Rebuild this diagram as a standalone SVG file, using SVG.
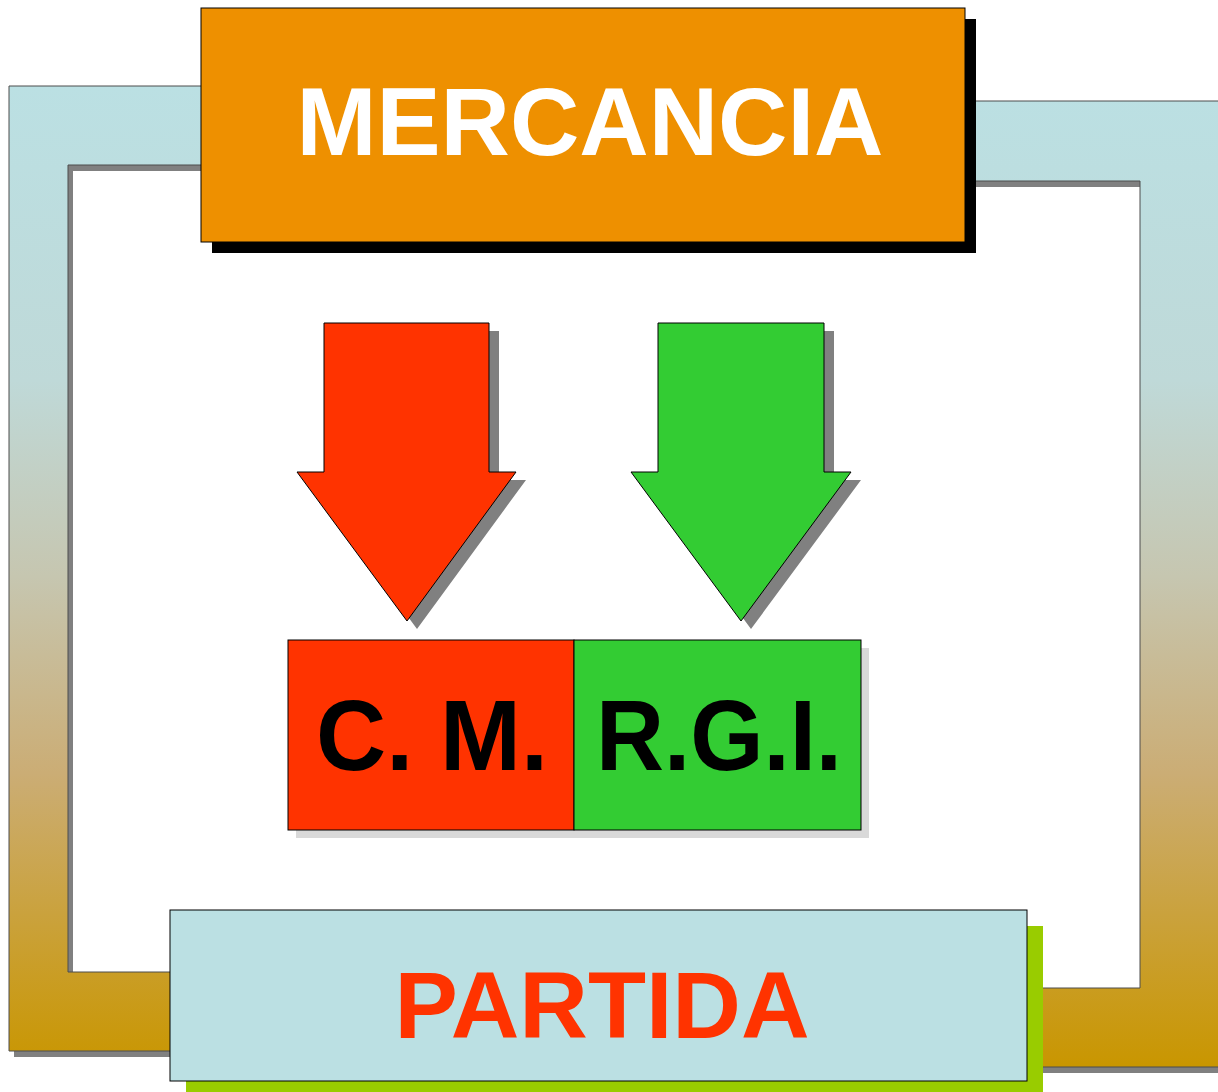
<svg xmlns="http://www.w3.org/2000/svg" width="1218" height="1092" viewBox="0 0 1218 1092">
  <defs>
    <linearGradient id="frameGrad" gradientUnits="userSpaceOnUse" x1="0" y1="86" x2="0" y2="1067">
      <stop offset="0" stop-color="#BBE0E3"/>
      <stop offset="0.3" stop-color="#BFD9D8"/>
      <stop offset="0.5" stop-color="#C6C6B0"/>
      <stop offset="0.7" stop-color="#CBAD75"/>
      <stop offset="1" stop-color="#C99600"/>
    </linearGradient>
  </defs>
  <style>
    .frameShadow { fill: #808080; }
    .frame { fill: url(#frameGrad); stroke: #4D4D4D; stroke-width: 1; }
    .arrowShadow { fill: #808080; }
    .edge { stroke: #000; stroke-width: 1; }
    .label { font-family: "Liberation Sans", Arial, sans-serif; font-weight: bold; text-anchor: middle; }
  </style>
  <rect width="1218" height="1092" fill="#FFFFFF"/>

  <g id="frame">
    <path class="frameShadow" transform="translate(5,6)" d="M9,86 H600 V165 H68 V972 H600 V1051 H9 Z"/>
    <path class="frameShadow" transform="translate(5,6)" d="M600,101 H1225 V1067 H600 V988 H1140 V181 H600 Z"/>
    <path class="frame" d="M9,86 H600 V165 H68 V972 H600 V1051 H9 Z"/>
    <path class="frame" d="M600,101 H1225 V1067 H600 V988 H1140 V181 H600 Z"/>
  </g>

  <g id="mercancia">
    <rect x="212" y="19" width="764" height="234" fill="#000000"/>
    <rect x="201" y="8" width="764" height="234" fill="#EE9000" class="edge"/>
    <text x="590" y="155" class="label" font-size="97" fill="#FFFFFF" textLength="587" lengthAdjust="spacingAndGlyphs">MERCANCIA</text>
  </g>

  <g id="connectors">
    <g id="arrow-red">
      <path class="arrowShadow" transform="translate(10,8)" d="M324,323 H489 V472 H516 L407,621 L297,472 H324 Z"/>
      <path d="M324,323 H489 V472 H516 L407,621 L297,472 H324 Z" fill="#FF3300" class="edge"/>
    </g>
    <g id="arrow-green">
      <path class="arrowShadow" transform="translate(10,8)" d="M658,323 H824 V472 H851 L741,621 L631,472 H658 Z"/>
      <path d="M658,323 H824 V472 H851 L741,621 L631,472 H658 Z" fill="#33CC33" class="edge"/>
    </g>
  </g>

  <g id="cm-rgi-shadow">
    <rect x="296" y="648" width="573" height="190" fill="#D9D9D9"/>
  </g>
  <g id="cm">
    <rect x="288" y="640" width="286" height="190" fill="#FF3300" class="edge"/>
    <text x="432" y="770" class="label" font-size="100" fill="#000000" textLength="232" lengthAdjust="spacingAndGlyphs">C. M.</text>
  </g>
  <g id="rgi">
    <rect x="574" y="640" width="287" height="190" fill="#33CC33" class="edge"/>
    <text x="719" y="770" class="label" font-size="100" fill="#000000" textLength="246" lengthAdjust="spacingAndGlyphs">R.G.I.</text>
  </g>

  <g id="partida">
    <rect x="186" y="926" width="857" height="171" fill="#99CC00"/>
    <rect x="170" y="910" width="857" height="171" fill="#BBE0E3" class="edge"/>
    <text x="602" y="1038" class="label" font-size="95" fill="#FF3300">PARTIDA</text>
  </g>
</svg>
